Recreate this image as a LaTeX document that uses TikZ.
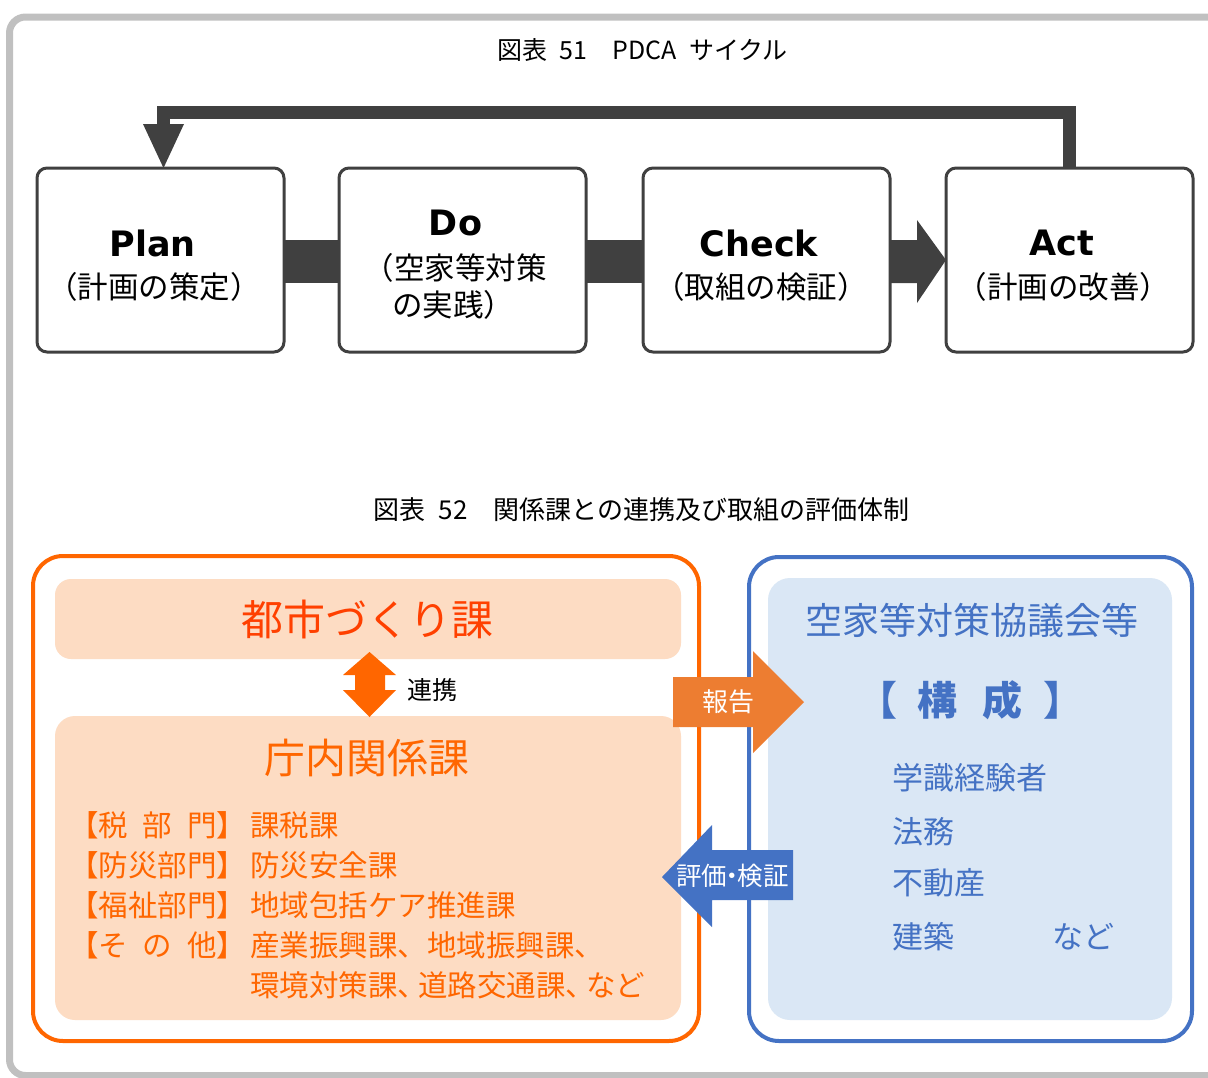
\documentclass[tikz,border=0pt]{standalone}
\usepackage{fontspec}
\setmainfont{Noto Sans CJK JP}
\newfontfamily\vera{DejaVu Sans}
\usetikzlibrary{calc}
\definecolor{dark}{HTML}{404040}
\definecolor{framegray}{HTML}{C0C0C0}
\definecolor{orline}{HTML}{FF6600}
\definecolor{peach}{HTML}{FDDCC3}
\definecolor{redor}{HTML}{FF4000}
\definecolor{ortext}{HTML}{FF6600}
\definecolor{reportor}{HTML}{ED7D31}
\definecolor{bline}{HTML}{4472C4}
\definecolor{lblue}{HTML}{DAE7F5}
\newcommand{\fs}[1]{\fontsize{#1}{#1}\selectfont}
\begin{document}
\begin{tikzpicture}[x=1pt,y=-1pt,
  every node/.style={inner sep=0pt,outer sep=0pt},
  pbox/.style={draw=dark,line width=3pt,rounded corners=10pt,minimum width=247pt,minimum height=184pt,fill=white},
  pdcatitle/.style={font=\vera\bfseries\fs{35}},
  pdcasub/.style={font=\fs{30.5}},
  outerbox/.style={line width=4pt,rounded corners=30pt,fill=white},
  listtext/.style={text=ortext,font=\fs{29.5}},
  memtext/.style={text=bline,font=\fs{31},anchor=west}]
\useasboundingbox (0,0) rectangle (1208,1077);
\begin{scope}
\clip (0,0) rectangle (1208,1077);
\draw[line width=7pt,framegray,rounded corners=16pt] (9.5,17) rectangle (1260,1075.5);
\end{scope}

% ---------- PDCA ----------
\node (t1) at (642.5,50) {\fs{25}図表\hspace{0.5em}51　PDCA\hspace{0.5em}サイクル};

\node[pbox] (plan) at (160.5,260) {};
\node[pbox] (do) at (462.5,260) {};
\node[pbox] (check) at (766.5,260) {};
\node[pbox] (act) at (1069.5,260) {};

\fill[dark] ($(plan.east)+(0,-20)$) rectangle ($(do.west)+(0,23)$);
\fill[dark] ($(do.east)+(0,-20)$) rectangle ($(check.west)+(0,23)$);
\fill[dark] ($(check.east)+(0,-20)$) -- (917,240) -- (917,220) -- (act.west) -- (917,303) -- (917,283) -- ($(check.east)+(0,23)$) -- cycle;

\draw[dark,line width=13pt] (act.north) |- (163.5,112.5) -- (163.5,125);
\fill[dark] (143,124) -- (184,124) -- ($(plan.north)+(3,0)$) -- cycle;

\node[pdcatitle] (planT) at (152.5,243) {Plan};
\node[pdcasub] (planS) at (154,287) {（計画の策定）};
\node[pdcatitle] (doT) at (455.5,223) {Do};
\node[pdcasub] (doS1) at (455,268) {（空家等対策};
\node[pdcasub] (doS2) at (453,305) {の実践）};
\node[pdcatitle] (checkT) at (759,243) {Check};
\node[pdcasub] (checkS) at (761,287) {（取組の検証）};
\node[pdcatitle] (actT) at (1061.5,243) {Act};
\node[pdcasub] (actS) at (1063.5,287) {（計画の改善）};

% ---------- Bottom ----------
\node (t2) at (641.5,510) {\fs{26}図表\hspace{0.5em}52　関係課との連携及び取組の評価体制};

\node[outerbox,draw=orline,minimum width=666pt,minimum height=485pt] (orbox) at (366,798.5) {};
\node[outerbox,draw=bline,minimum width=443pt,minimum height=484pt] (blbox) at (970.5,799) {};

\node[fill=peach,rounded corners=16pt,minimum width=626pt,minimum height=80pt] (toshibox) at (368,619) {};
\node[fill=peach,rounded corners=20pt,minimum width=626pt,minimum height=304pt] (chonaibox) at (368,868) {};
\node[fill=lblue,rounded corners=22pt,minimum width=404pt,minimum height=442pt] (kyogibox) at (970,799) {};

% double arrow
\fill[orline] ($(toshibox.south)+(1.5,-7)$) -- ++(26.5,23) -- ++(-11,0) -- ++(0,15) -- ++(11,0)
  -- ($(chonaibox.north)+(1.5,1)$) -- ++(-26.5,-27) -- ++(12,0) -- ++(0,-15) -- ++(-12,0) -- cycle;
\node (renkei) at (432,690) {\fs{25}連携};

% report arrow
\fill[reportor] (673,677) -- (753,677) -- (753,651) -- (804,702) -- (753,753) -- (753,727) -- (673,727) -- cycle;
\node[text=white] (hokoku) at (728,702) {\fs{26}報告};

% evaluation arrow
\fill[bline] (793,850) -- (712,850) -- (712,825) -- (662,877) -- (712,927) -- (712,900) -- (793,900) -- cycle;
\node[text=white] (hyoka) at (732.5,876) {\fs{25.5}評価\hspace{-0.3em}・\hspace{-0.3em}検証};

% texts left
\node[text=redor] (toshiT) at (367,619) {\fs{42}都市づくり課};
\node[text=ortext] (chonaiT) at (367,758) {\fs{41}庁内関係課};

\node[listtext,anchor=east] (l1) at (246,825) {【税\hspace{0.5em}部\hspace{0.5em}門】};
\node[listtext,anchor=east] (l2) at (246,865) {【防災部門】};
\node[listtext,anchor=east] (l3) at (246,905) {【福祉部門】};
\node[listtext,anchor=east] (l4) at (246,945) {【そ\hspace{0.5em}の\hspace{0.5em}他】};
\node[listtext,anchor=west] (r1) at (250,825) {課税課};
\node[listtext,anchor=west] (r2) at (250,865) {防災安全課};
\node[listtext,anchor=west] (r3) at (250,905) {地域包括ケア推進課};
\node[listtext,anchor=west] (r4) at (250,945) {産業振興課、地域振興課、};
\node[listtext,anchor=west] (r5) at (250,985) {環境対策課、\hspace{-0.3em}道路交通課、\hspace{-0.3em}など};

% texts right
\node[text=bline] (kyogiT) at (972,620) {\fs{37}空家等対策協議会等};
\node[text=bline,anchor=east] (kb1) at (897,700) {\fs{40}\bfseries 【};
\node[text=bline] (kb2) at (937,700) {\fs{40}\bfseries 構};
\node[text=bline] (kb3) at (1002,700) {\fs{40}\bfseries 成};
\node[text=bline,anchor=west] (kb4) at (1043,700) {\fs{40}\bfseries 】};
\node[memtext] (m1) at (892,778) {学識経験者};
\node[memtext] (m2) at (892,832) {法務};
\node[memtext] (m3) at (892,883) {不動産};
\node[memtext] (m4) at (892,937) {建築};
\node[memtext] (m5) at (1052,937) {など};
\end{tikzpicture}
\end{document}
